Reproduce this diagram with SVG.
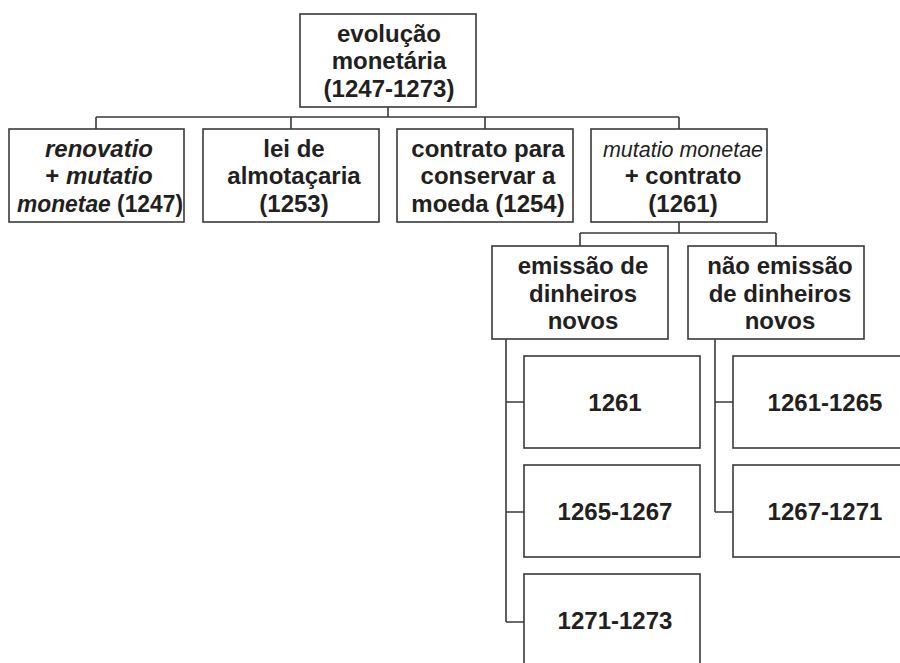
<svg xmlns="http://www.w3.org/2000/svg" width="900" height="663" viewBox="0 0 900 663">
<style>
.box{fill:#ffffff;stroke:#3a3a3a;stroke-width:1.6}
.conn{fill:none;stroke:#3a3a3a;stroke-width:1.6}
text{font-family:"Liberation Sans",Arial,sans-serif;font-weight:bold;font-size:24px;fill:#231f20;text-anchor:middle}
.it{font-style:italic}
.reg{font-weight:normal;font-style:italic;font-size:21.5px}
</style>
<rect width="900" height="663" fill="#ffffff"/>
<g id="connectors">
<path class="conn" d="M388 107V117M96 117H679M96 117V129M291 117V129M485 117V129M679 117V129"/>
<path class="conn" d="M679 222V233M580 233H776M580 233V246M776 233V246"/>
<path class="conn" d="M506 339V622M506 402H524M506 512H524M506 622H524"/>
<path class="conn" d="M715 339V512M715 402H733M715 512H733"/>
</g>
<g id="root">
<rect class="box" x="300" y="14" width="176" height="93"/>
<text x="389" y="41.5">evolução</text>
<text x="389" y="69">monetária</text>
<text x="389" y="96.5">(1247-1273)</text>
</g>
<g id="renovatio">
<rect class="box" x="9" y="129" width="175" height="93"/>
<text x="99" y="156.5" class="it">renovatio</text>
<text x="99" y="184">+ <tspan class="it">mutatio</tspan></text>
<text x="100" y="211.5" textLength="166" lengthAdjust="spacingAndGlyphs"><tspan class="it">monetae</tspan> (1247)</text>
</g>
<g id="lei">
<rect class="box" x="203" y="129" width="176" height="93"/>
<text x="294" y="156.5">lei de</text>
<text x="294" y="184">almotaçaria</text>
<text x="294" y="211.5">(1253)</text>
</g>
<g id="contrato">
<rect class="box" x="397" y="129" width="176" height="93"/>
<text x="488" y="156.5">contrato para</text>
<text x="488" y="184">conservar a</text>
<text x="488" y="211.5">moeda (1254)</text>
</g>
<g id="mutatio">
<rect class="box" x="591" y="129" width="176" height="93"/>
<text x="683" y="156.5" class="reg">mutatio monetae</text>
<text x="683" y="184">+ contrato</text>
<text x="683" y="211.5">(1261)</text>
</g>
<g id="emissao">
<rect class="box" x="492" y="246" width="176" height="93"/>
<text x="583" y="274">emissão de</text>
<text x="583" y="301.5">dinheiros</text>
<text x="583" y="329">novos</text>
</g>
<g id="nao-emissao">
<rect class="box" x="688" y="246" width="176" height="93"/>
<text x="780" y="274">não emissão</text>
<text x="780" y="301.5">de dinheiros</text>
<text x="780" y="329">novos</text>
</g>
<g id="e1261">
<rect class="box" x="524" y="356" width="176" height="92"/>
<text x="615" y="411">1261</text>
</g>
<g id="e1265">
<rect class="box" x="524" y="465" width="176" height="92"/>
<text x="615" y="520">1265-1267</text>
</g>
<g id="e1271">
<rect class="box" x="524" y="574" width="176" height="92"/>
<text x="615" y="629">1271-1273</text>
</g>
<g id="n1261">
<rect class="box" x="733" y="356" width="176" height="92"/>
<text x="825" y="411">1261-1265</text>
</g>
<g id="n1267">
<rect class="box" x="733" y="465" width="176" height="92"/>
<text x="825" y="520">1267-1271</text>
</g>
</svg>
